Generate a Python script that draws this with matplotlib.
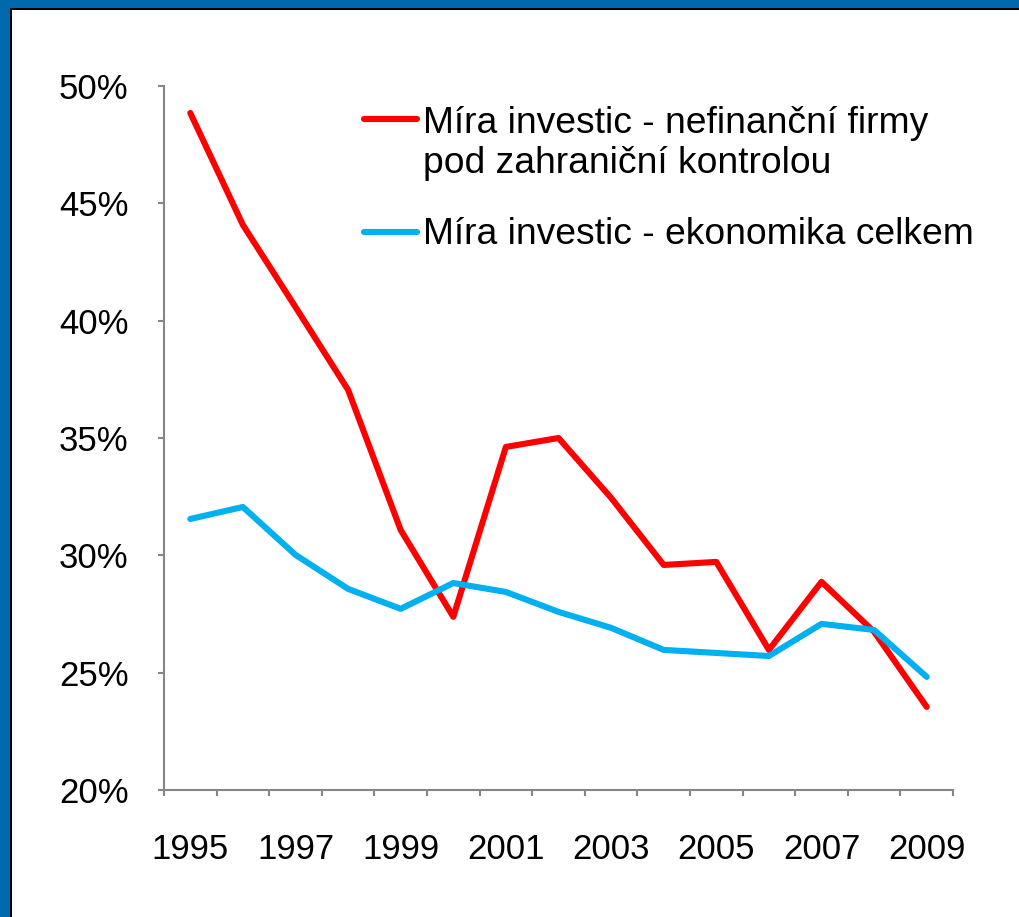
import matplotlib.pyplot as plt
from matplotlib.lines import Line2D
from matplotlib.patches import Rectangle
from matplotlib.ticker import FixedLocator, PercentFormatter

plt.rcParams['font.family'] = ['Liberation Sans', 'DejaVu Sans']

years = list(range(1995, 2010))
foreign_firms = [48.85, 44.08, 40.58, 37.05, 31.08, 27.38, 34.62, 35.0,
                 32.45, 29.59, 29.72, 25.97, 28.87, 26.74, 23.54]
economy_total = [31.55, 32.06, 30.02, 28.57, 27.72, 28.82, 28.44, 27.59,
                 26.91, 25.97, 25.84, 25.71, 27.08, 26.82, 24.82]
label_red = ['Míra investic - nefinanční firmy', 'pod zahraniční kontrolou']
label_blue = 'Míra investic - ekonomika celkem'
red = '#ff0000'
blue = '#00b0f0'

W, H = 1020, 917
fig = plt.figure(figsize=(W / 100, H / 100), dpi=100)

# blue frame on top and left, thin black line inside it
fig.patches.append(Rectangle((0, 0), 1, 1, transform=fig.transFigure,
                             facecolor='#0068ad', edgecolor='none', zorder=-3))
fig.patches.append(Rectangle((10 / W, 0), 1 - 10 / W, 1 - 8 / H, transform=fig.transFigure,
                             facecolor='black', edgecolor='none', zorder=-2))
fig.patches.append(Rectangle((12 / W, 0), 1 - 12 / W, 1 - 10 / H, transform=fig.transFigure,
                             facecolor='white', edgecolor='none', zorder=-1))

ax = fig.add_axes([164 / W, 1 - 790 / H, (953 - 164) / W, (790 - 86) / H])
ax.patch.set_alpha(0)

x = list(range(len(years)))
ax.plot(x, foreign_firms, color=red, lw=4.4,
        solid_capstyle='round', solid_joinstyle='round')
ax.plot(x, economy_total, color=blue, lw=4.4,
        solid_capstyle='round', solid_joinstyle='round')

ax.set_xlim(-0.5, len(years) - 0.5)
ax.set_ylim(20, 50)
ax.set_yticks([20, 25, 30, 35, 40, 45, 50])
ax.yaxis.set_major_formatter(PercentFormatter(decimals=0))

ax.xaxis.set_major_locator(FixedLocator([i - 0.5 for i in range(len(years) + 1)]))
ax.xaxis.set_major_formatter(plt.NullFormatter())
ax.xaxis.set_minor_locator(FixedLocator(x[::2]))
ax.set_xticklabels([str(y) for y in years[::2]], minor=True)

grey = '#868686'
for s in ['top', 'right']:
    ax.spines[s].set_visible(False)
for s in ['left', 'bottom']:
    ax.spines[s].set_color(grey)
    ax.spines[s].set_linewidth(1.5)

ax.tick_params(axis='both', which='major', color=grey, width=1.5, length=4.5,
               direction='out', labelsize=25)
ax.tick_params(axis='y', pad=21)
ax.tick_params(axis='x', which='minor', length=0, pad=31, labelsize=25)

# legend drawn by hand, first text line next to the red handle
def fx(px):
    return px / W

def fy(py):
    return 1 - py / H

for yy, col in [(119, red), (232, blue)]:
    fig.add_artist(Line2D([fx(364), fx(417)], [fy(yy), fy(yy)], color=col, lw=4.4,
                          solid_capstyle='round', transform=fig.transFigure))
fig.text(fx(423), fy(133), label_red[0], fontsize=26.8, va='baseline')
fig.text(fx(423), fy(173), label_red[1], fontsize=26.8, va='baseline')
fig.text(fx(423), fy(244), label_blue, fontsize=26.8, va='baseline')

fig.savefig('out.png', dpi=100)
